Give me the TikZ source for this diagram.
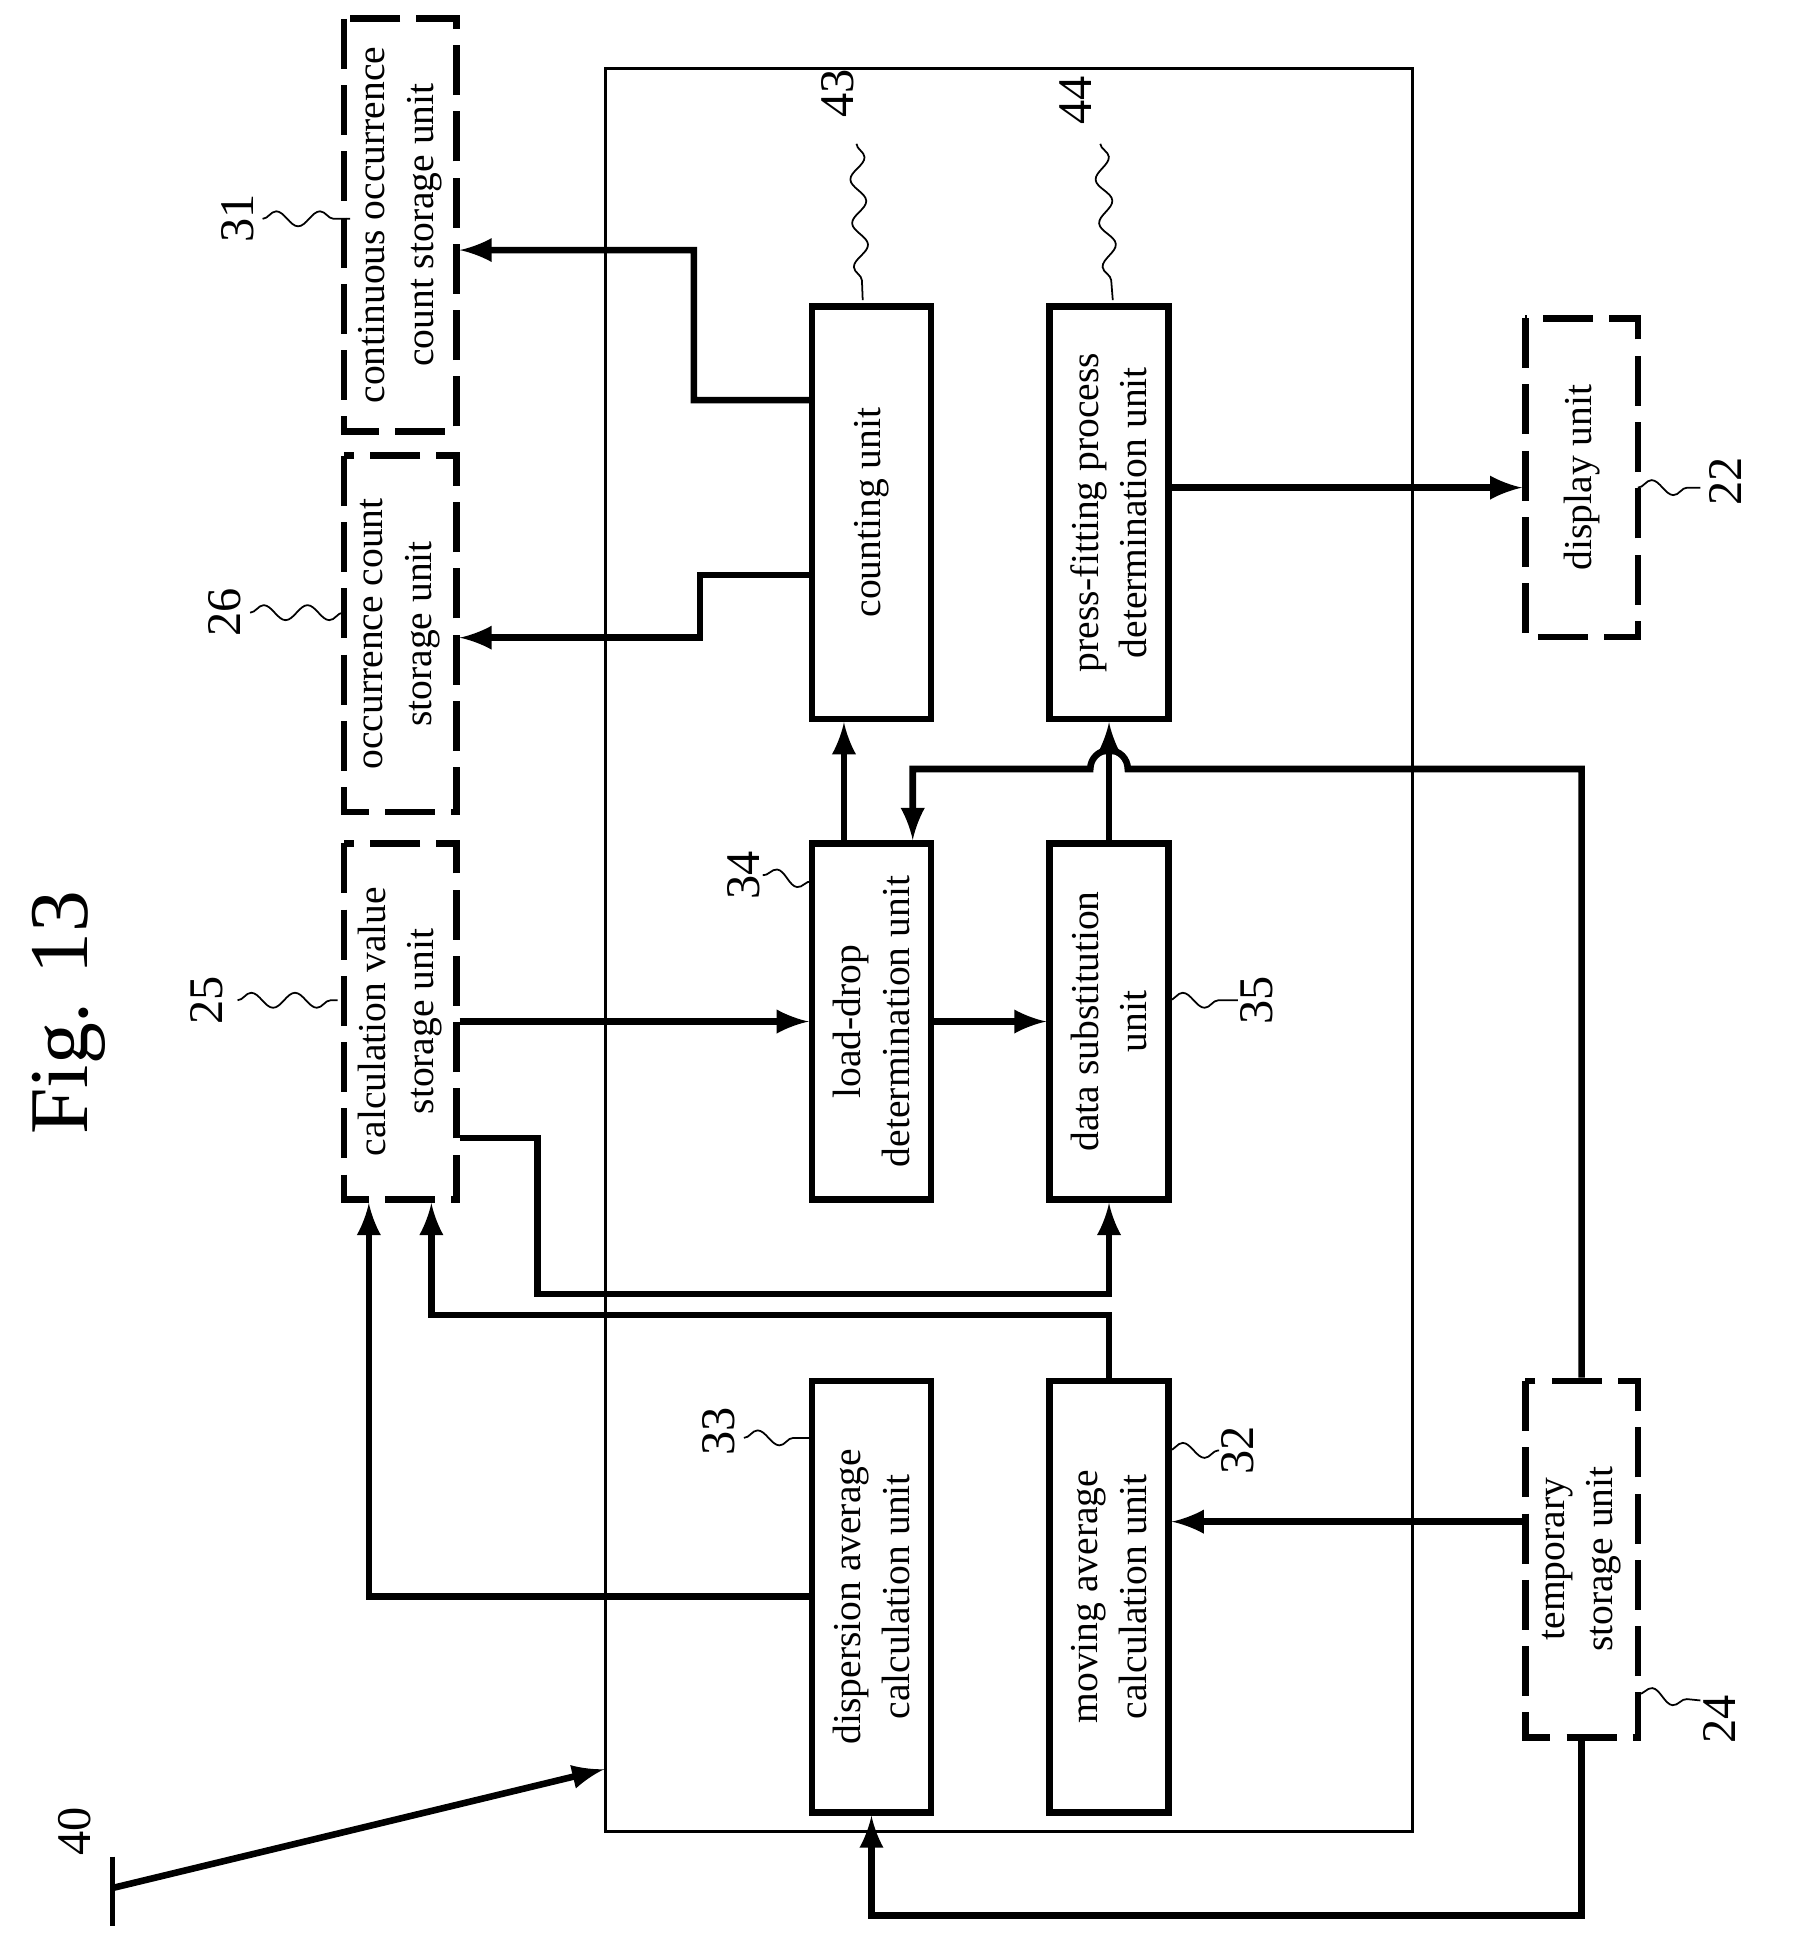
\documentclass[tikz,border=0pt]{standalone}
\usepackage{fontspec}
\setmainfont{Liberation Serif}
\usetikzlibrary{decorations.pathmorphing}

\begin{document}
\begin{tikzpicture}[
    unit/.style={rectangle,draw,line width=1.5pt,rotate=90,align=center,inner sep=1pt,
        font=\fontsize{9}{11}\selectfont},
    store/.style={unit,dash pattern=on 4mm off 1.3mm},
    wire/.style={draw,line width=1.5pt,-latex},
    squig/.style={decorate,decoration={snake,amplitude=0.6mm,segment length=3.5mm}},
    num/.style={rotate=90,font=\fontsize{11}{11}\selectfont}
]
    \useasboundingbox (0,0) rectangle (14.4,-15.58);

    \node[rotate=90,font=\fontsize{19}{20}\selectfont] (title) at (0.55,-8.1) {Fig. 13};
    \node[draw,line width=0.7pt,minimum width=6.45cm,minimum height=14.1cm] (ctrl) at (8.07,-7.6) {};

    % storage units
    \node[store,minimum width=2.85cm,minimum height=0.9cm] (calcval) at (3.2,-8.17) {calculation value\\storage unit};
    \node[store,minimum width=2.85cm,minimum height=0.9cm] (occcount) at (3.2,-5.07) {occurrence count\\storage unit};
    \node[store,minimum width=3.3cm,minimum height=0.9cm] (contcount) at (3.2,-1.8) {continuous occurrence\\count storage unit};
    \node[store,minimum width=2.55cm,minimum height=0.9cm] (display) at (12.65,-3.82) {display unit};
    \node[store,minimum width=2.85cm,minimum height=0.9cm] (tempstore) at (12.65,-12.47) {temporary\\storage unit};

    % processing units
    \node[unit,minimum width=3.45cm,minimum height=0.95cm] (dispavg) at (6.97,-12.77) {dispersion average\\calculation unit};
    \node[unit,minimum width=3.45cm,minimum height=0.95cm] (movavg) at (8.87,-12.77) {moving average\\calculation unit};
    \node[unit,minimum width=2.85cm,minimum height=0.95cm] (loaddrop) at (6.97,-8.17) {load-drop\\determination unit};
    \node[unit,minimum width=2.85cm,minimum height=0.95cm] (datasub) at (8.87,-8.17) {data substitution\\unit};
    \node[unit,minimum width=3.3cm,minimum height=0.95cm] (counting) at (6.97,-4.1) {counting unit};
    \node[unit,minimum width=3.3cm,minimum height=0.95cm] (pressfit) at (8.87,-4.1) {press-fitting process\\determination unit};

    % connectors
    \draw[wire] (dispavg.north) -| ([xshift=-2.5mm]calcval.west);
    \draw[wire] (movavg.east) -- ++(0,0.5) -| ([xshift=2.5mm]calcval.west);
    \draw[wire] ([yshift=-0.93cm]calcval.south) -| (4.3,-10.35) -| (datasub.west);
    \draw[wire] (calcval.south) -- (loaddrop.north);
    \draw[wire] (loaddrop.south) -- (datasub.north);
    \draw[wire] ([yshift=0.3cm]tempstore.north) -- ([yshift=0.3cm]tempstore.north -| movavg.south);
    \draw[wire] (tempstore.west) -- ++(0,-1.4) -| (dispavg.west);
    \draw[wire] (tempstore.east) -- (12.65,-6.15) -- (9.02,-6.15) arc (0:180:0.15) -- (7.3,-6.15)
        -- ([xshift=3.3mm]loaddrop.east);
    \draw[wire] (datasub.east) -- (pressfit.west);
    \draw[wire] ([xshift=-2.2mm]loaddrop.east) -- ([xshift=-2.2mm]counting.west);
    \draw[wire] ([yshift=-0.5cm]counting.north) -- (5.6,-4.6) -- (5.6,-5.1) -- ([yshift=-0.03cm]occcount.south);
    \draw[wire] ([yshift=0.9cm]counting.north) -- (5.55,-3.2) -- (5.55,-2.0) -- ([yshift=-0.2cm]contcount.south);
    \draw[wire] ([yshift=0.2cm]pressfit.south) -- ([yshift=0.2cm]pressfit.south -| display.north);

    % reference numbers
    \coordinate (tick) at (0.9,-15.1);
    \draw[line width=1pt] (0.9,-14.85) -- (0.9,-15.4);
    \draw[wire] (tick) -- (ctrl.south west |- 0,-14.15);
    \node[num] (n40) at (0.6,-14.65) {40};
    \node[num] (n25) at (1.65,-8.0) {25};
    \draw[squig] (1.9,-8.0) -- (2.7,-8.0);
    \node[num] (n26) at (1.8,-4.9) {26};
    \draw[squig] (2.0,-4.9) -- (2.75,-4.9);
    \node[num] (n31) at (1.9,-1.75) {31};
    \draw[squig] (2.1,-1.75) -- (2.8,-1.75);
    \node[num] (n33) at (5.75,-11.45) {33};
    \draw[squig] (5.95,-11.5) -- (6.5,-11.5);
    \node[num] (n34) at (5.95,-7.0) {34};
    \draw[squig] (6.1,-7.0) -- (6.5,-7.05);
    \node[num] (n32) at (9.9,-11.6) {32};
    \draw[squig] (9.35,-11.6) -- (9.75,-11.6);
    \node[num] (n35) at (10.05,-8.0) {35};
    \draw[squig] (9.35,-8.0) -- (9.9,-8.0);
    \node[num] (n43) at (6.7,-0.75) {43};
    \draw[squig] (6.85,-1.15) -- (6.9,-2.4);
    \node[num] (n44) at (8.6,-0.8) {44};
    \draw[squig] (8.8,-1.15) -- (8.9,-2.4);
    \node[num] (n22) at (13.8,-3.85) {22};
    \draw[squig] (13.1,-3.9) -- (13.6,-3.9);
    \node[num] (n24) at (13.75,-13.75) {24};
    \draw[squig] (13.1,-13.55) -- (13.6,-13.6);
\end{tikzpicture}
\end{document}
